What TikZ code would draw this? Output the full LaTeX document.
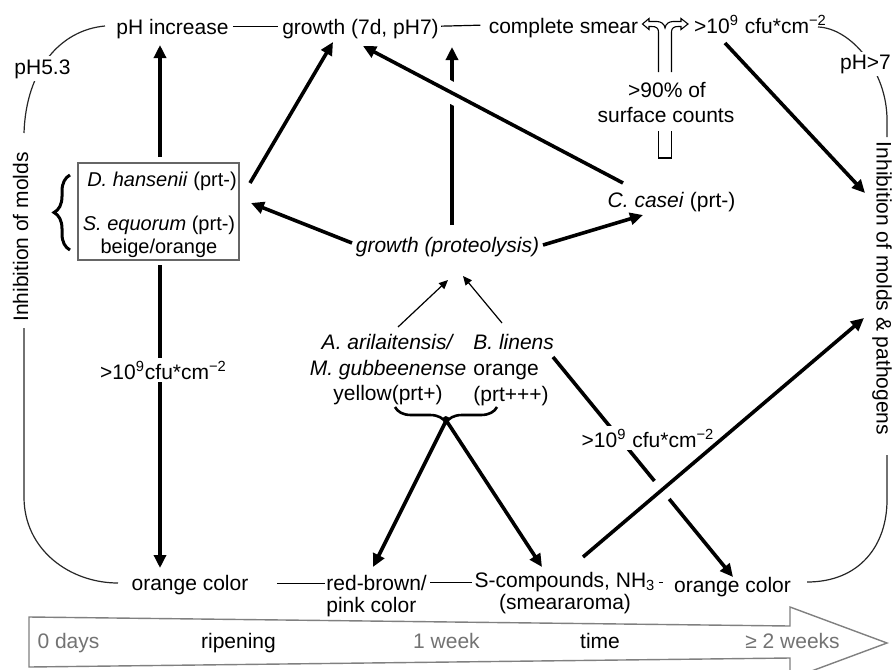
\documentclass[tikz,border=0pt]{standalone}
\usepackage{fontspec}
\setmainfont{Liberation Sans}
\usetikzlibrary{arrows.meta,decorations.pathreplacing,calc}
\begin{document}
\begin{tikzpicture}[x=0.5pt,y=-0.5pt,
  lbl/.style={anchor=base, inner sep=0pt, font=\fontsize{10.5}{12}\selectfont},
  boxtxt/.style={lbl, font=\fontsize{10}{12}\selectfont},
  cut/.style={fill=white, inner sep=1.5pt},
  thickarrow/.style={line width=1.8pt, -{Triangle[length=6.5pt,width=6pt]}},
  thinarrow/.style={line width=0.6pt, -{Triangle[length=4.5pt,width=4pt]}},
  frameline/.style={line width=0.6pt, black!85},
  link/.style={line width=0.6pt},
  bracket/.style={line width=1.3pt, decorate, decoration={brace, amplitude=8pt}},
  daytxt/.style={lbl, text=black!55},
]
\useasboundingbox (0,0) rectangle (893,669);
\clip (0,0) rectangle (893,669);

% ---------- time axis ----------
\draw[black!50, line width=0.7pt, fill=white]
  (29,617) -- (790,626) -- (790,607) -- (887,643) -- (790,679) -- (790,658) -- (29,667) -- cycle;
\node[daytxt] (d0) at (68.5,648) {0 days};
\node[lbl] (rip) at (238.5,648) {ripening};
\node[daytxt] (w1) at (446.5,648) {1 week};
\node[lbl] (tm) at (600,648) {time};
\node[daytxt] (w2) at (792.5,648) {≥ 2 weeks};

% ---------- top row ----------
\node[lbl] (phinc) at (172.5,34) {pH increase};
\node[lbl] (gr7) at (360.5,34) {growth (7d, pH7)};
\node[lbl] (smear) at (563.5,33) {complete smear};
\node[lbl] (cfutop) at (760.5,33) {>10\textsuperscript{9} cfu*cm\textsuperscript{−2}};
\draw[link] ([xshift=2pt,yshift=1.2pt]phinc.east) -- ([xshift=-2pt,yshift=1.2pt]gr7.west);
\draw[link] ([xshift=1pt,yshift=1.2pt]gr7.east) -- ([xshift=-4pt,yshift=1.2pt]smear.west);

% ---------- surrounding frame ----------
\draw[frameline] (105,26) .. controls (60,30) and (26,70) .. (24,133);
\draw[frameline] (24,328) -- (24,497) .. controls (24,550) and (70,583) .. (118,583);
\draw[frameline] (818,27) .. controls (850,28) and (887,70) .. (887,120) -- (887,137);
\draw[frameline] (807,582) .. controls (860,582) and (887,545) .. (887,500) -- (887,455);
\node[lbl, cut] (ph53) at (42.5,74) {pH5.3};
\node[lbl, cut] (ph7) at (865.5,69) {pH>7};
\node[lbl, rotate=90] (inhl) at (28,237) {Inhibition of molds};
\node[lbl, rotate=-90] (inhr) at (876.5,288.5) {Inhibition of molds \& pathogens};

% ---------- split arrow: smear share ----------
\draw[line width=0.55pt]
  (658.5,72) -- (658.5,32) .. controls (658.5,28) and (656,26.5) .. (652,26.5)
  -- (649,26.5) -- (649,29.5) -- (642.5,24) -- (649,18.5) -- (649,21.5) -- (657,21.5)
  .. controls (661,21.5) and (664.5,24) .. (665,28)
  .. controls (665.5,24) and (669,21.5) .. (673,21.5)
  -- (681,21.5) -- (681,18.5) -- (688,24) -- (681,29.5) -- (681,26.5) -- (678,26.5)
  .. controls (674,26.5) and (671.5,28) .. (671.5,32) -- (671.5,72);
\draw[line width=0.55pt] (658.5,131) -- (658.5,158) -- (671.5,158) -- (671.5,131);
\node[lbl] (p90) at (667,97) {>90\% of};
\node[lbl] (sc) at (666,122) {surface counts};

% ---------- yeast / staphylococci box ----------
\node[draw=black!60, line width=0.6pt, minimum width=80.5pt, minimum height=48.5pt, inner sep=0pt] (box) at (158.5,211.5) {};
\node[boxtxt] (dh) at (162,186) {\textit{D. hansenii} (prt-)};
\node[boxtxt] (se) at (159,230) {\textit{S. equorum} (prt-)};
\node[boxtxt] (bo) at (159,253) {beige/orange};
\draw[bracket, line width=1.5pt] (70,250) -- (70,175);

% ---------- middle ----------
\node[lbl] (casei) at (671.5,207) {\textit{C. casei} (prt-)};
\node[lbl] (prot) at (447.5,252) {\textit{growth (proteolysis)}};
\node[lbl] (aa) at (388,349) {\textit{A. arilaitensis/}};
\node[lbl] (mg) at (388,375) {\textit{M. gubbeenense}};
\node[lbl] (yp) at (388,400) {yellow(prt+)};
\node[lbl, anchor=base west] (bl) at (473,349) {\textit{B. linens}};
\node[lbl, anchor=base west] (bo2) at (473,375) {orange};
\node[lbl, anchor=base west] (bp) at (473,401) {(prt+++)};
\draw[bracket] (497,407) -- (395,407);

% ---------- bottom row ----------
\node[lbl] (orL) at (190,590) {orange color};
\node[lbl, anchor=base west] (rb) at (326,590) {red-brown/};
\node[lbl, anchor=base west] (pc) at (326,612) {pink color};
\node[lbl] (scomp) at (565,587) {S-compounds, NH\textsubscript{3}};
\node[lbl] (smaroma) at (565,609) {(smeararoma)};
\node[lbl] (orR) at (732.5,592) {orange color};
\draw[link] ([xshift=14pt,yshift=0.7pt]orL.east) -- ([xshift=-0.5pt,yshift=0.7pt]orL.east -| rb.west);
\draw[link] ([xshift=1.5pt]rb.east) -- ([xshift=-1pt]rb.east -| scomp.west);
\draw[link] ([xshift=1.5pt]rb.east -| scomp.east) -- ([xshift=-5.5pt]rb.east -| orR.west);

% ---------- connector end points ----------
\coordinate (boxtop) at (160,157);
\coordinate (phinctip) at (160,45);
\coordinate (boxne) at (250,183);
\coordinate (gr7tipa) at (333,42);
\coordinate (protw) at (352,243);
\coordinate (boxe) at (251,203);
\coordinate (prote) at (543,245);
\coordinate (caseitip) at (643,215);
\coordinate (caseinw) at (623,183);
\coordinate (gr7tipb) at (363,46);
\coordinate (protn) at (452,225);
\coordinate (smeartip) at (452,47);
\coordinate (boxbot) at (160,265);
\coordinate (orLtip) at (160,568);
\coordinate (braceL) at (448,417);
\coordinate (braceR) at (444,417);
\coordinate (rbtip) at (373,567);
\coordinate (sctip) at (542,567);
\coordinate (blse) at (553,357);
\coordinate (orRtip) at (733,577);
\coordinate (scne) at (583,557);
\coordinate (inhrlow) at (864,318);
\coordinate (cfuse) at (725,43);
\coordinate (inhrhigh) at (865,193);
\coordinate (aane) at (398,327);
\coordinate (prottipa) at (448,280);
\coordinate (blnw) at (502,323);
\coordinate (prottipb) at (463,276);

% ---------- arrows ----------
\draw[thickarrow] (boxtop) -- (phinctip);
\draw[thickarrow] (boxne) -- (gr7tipa);
\draw[thickarrow] (protw) -- (boxe);
\draw[thickarrow] (prote) -- (caseitip);
\draw[thickarrow] (protn) -- (smeartip);
\draw[white, line width=10.5pt] ($(caseinw)!0.6!(gr7tipb)$) -- ($(caseinw)!0.72!(gr7tipb)$);
\draw[thickarrow] (caseinw) -- (gr7tipb);

\draw[thickarrow] (boxbot) -- (orLtip);
\node[lbl, cut] (cfuleft) at (163.5,379) {>10\textsuperscript{9}cfu*cm\textsuperscript{−2}};

\draw[thickarrow] (braceL) -- (rbtip);
\draw[thickarrow] (braceR) -- (sctip);

\draw[thickarrow] (blse) -- (orRtip);
\node[lbl, cut] (cfumid) at (648,447) {>10\textsuperscript{9} cfu*cm\textsuperscript{−2}};
\draw[white, line width=11.5pt] ($(scne)!0.24!(inhrlow)$) -- ($(scne)!0.32!(inhrlow)$);
\draw[thickarrow] (scne) -- (inhrlow);
\draw[thickarrow] (cfuse) -- (inhrhigh);

\draw[thinarrow] (aane) -- (prottipa);
\draw[thinarrow] (blnw) -- (prottipb);
\end{tikzpicture}
\end{document}
